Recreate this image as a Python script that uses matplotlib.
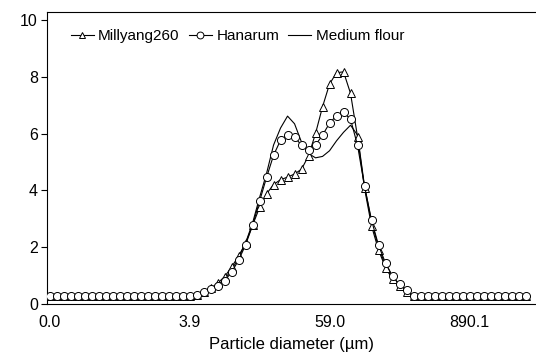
import numpy as np
import matplotlib
matplotlib.use("Agg")
import matplotlib.pyplot as plt

plt.rcParams['font.family'] = ['Liberation Sans', 'DejaVu Sans']

# particle size bins (index on a log axis), only some are labelled
tick_pos = [0, 20, 40, 60]
tick_labels = ["0.0", "3.9", "59.0", "890.1"]

millyang = [0.27, 0.27, 0.27, 0.27, 0.28, 0.28, 0.28, 0.28, 0.28, 0.27,
            0.27, 0.27, 0.27, 0.27, 0.27, 0.27, 0.27, 0.27, 0.27, 0.27,
            0.27, 0.30, 0.41, 0.55, 0.73, 0.96, 1.30, 1.69, 2.14, 2.77,
            3.40, 3.88, 4.21, 4.38, 4.47, 4.58, 4.75, 5.22, 6.01, 6.95,
            7.75, 8.15, 8.18, 7.42, 5.89, 4.07, 2.75, 1.90, 1.28, 0.87,
            0.63, 0.43, 0.27, 0.27, 0.27, 0.27, 0.27, 0.27, 0.27, 0.27,
            0.27, 0.27, 0.27, 0.27, 0.27, 0.27, 0.27, 0.27, 0.27]

hanarum = [0.27, 0.27, 0.27, 0.27, 0.29, 0.29, 0.29, 0.29, 0.29, 0.28,
           0.27, 0.27, 0.27, 0.27, 0.27, 0.27, 0.27, 0.27, 0.27, 0.27,
           0.28, 0.32, 0.43, 0.52, 0.63, 0.82, 1.12, 1.54, 2.08, 2.77,
           3.62, 4.46, 5.24, 5.77, 5.97, 5.87, 5.60, 5.42, 5.60, 5.95,
           6.37, 6.64, 6.75, 6.51, 5.59, 4.15, 2.95, 2.07, 1.44, 0.97,
           0.69, 0.50, 0.27, 0.27, 0.27, 0.27, 0.27, 0.27, 0.27, 0.27,
           0.27, 0.27, 0.27, 0.27, 0.27, 0.27, 0.27, 0.27, 0.27]

medium = [0.27, 0.27, 0.27, 0.27, 0.28, 0.28, 0.28, 0.28, 0.28, 0.27,
          0.27, 0.27, 0.27, 0.27, 0.27, 0.27, 0.27, 0.27, 0.27, 0.27,
          0.27, 0.30, 0.42, 0.53, 0.66, 0.88, 1.20, 1.62, 2.15, 2.85,
          3.75, 4.60, 5.60, 6.20, 6.62, 6.35, 5.70, 5.30, 5.15, 5.20,
          5.40, 5.75, 6.05, 6.30, 5.95, 4.15, 2.90, 2.00, 1.35, 0.90,
          0.65, 0.45, 0.27, 0.27, 0.27, 0.27, 0.27, 0.27, 0.27, 0.27,
          0.27, 0.27, 0.27, 0.27, 0.27, 0.27, 0.27, 0.27, 0.27]

x = np.arange(len(hanarum))

fig = plt.figure(figsize=(5.36, 3.57), dpi=100)
ax = fig.add_axes([0.0886, 0.1485, 0.9114, 0.8188])

ax.plot(x, medium, color='black', lw=0.8, label='Medium flour', zorder=2)
ax.plot(x, millyang, color='black', lw=0.8, marker='^', ms=5.8,
        mfc='white', mec='black', mew=0.7, label='Millyang260', zorder=3)
ax.plot(x, hanarum, color='black', lw=0.8, marker='o', ms=5.8,
        mfc='white', mec='black', mew=0.7, label='Hanarum', zorder=4)

ax.set_xlim(-0.3, 69.5)
ax.set_ylim(0, 10.3)
ax.set_yticks([0, 2, 4, 6, 8, 10])
ax.set_xticks(tick_pos)
ax.set_xticklabels(tick_labels)
ax.tick_params(axis='x', length=0, pad=8, labelsize=11.5)
ax.tick_params(axis='y', length=4, width=0.8, direction='out', pad=3, labelsize=11.5)
ax.set_xlabel('Particle diameter (\u00b5m)', fontsize=12, labelpad=5)

for s in ['left', 'bottom', 'top']:
    ax.spines[s].set_linewidth(0.8)
    ax.spines[s].set_color('black')
ax.spines['right'].set_visible(False)

h, l = ax.get_legend_handles_labels()
order = [1, 2, 0]
ax.legend([h[i] for i in order], [l[i] for i in order], loc='upper left',
          bbox_to_anchor=(0.035, 0.96), ncol=3, frameon=False, fontsize=11,
          handlelength=1.5, handletextpad=0.3, columnspacing=0.6,
          borderaxespad=0, markerscale=0.85)

fig.savefig('out.png', dpi=100)
